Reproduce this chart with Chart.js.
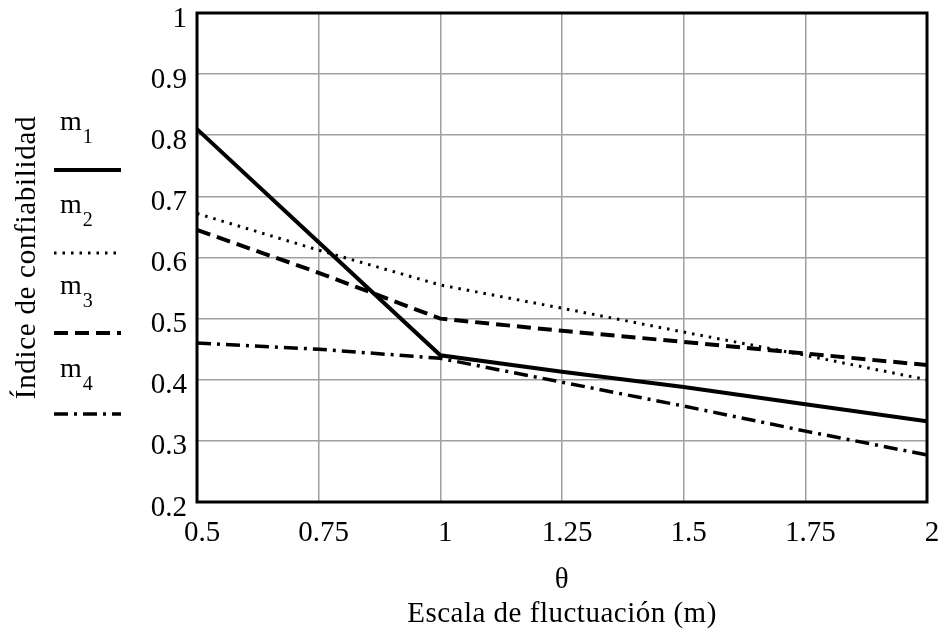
<!DOCTYPE html>
<html>
<head>
<meta charset="utf-8">
<script src="https://cdn.jsdelivr.net/npm/chart.js@4"></script>
<style>
  body { margin: 0; background: #fff; }
  #caja { width: 946px; height: 633px; position: relative; }
</style>
</head>
<body>
<div id="caja"><canvas id="grafico"></canvas></div>
<script>
const theta = [0.5, 0.75, 1, 1.25, 1.5, 1.75, 2];
const m1 = [0.81, 0.625, 0.44, 0.413, 0.388, 0.36, 0.332];
const m2 = [0.672, 0.612, 0.555, 0.517, 0.478, 0.44, 0.40];
const m3 = [0.645, 0.575, 0.50, 0.48, 0.462, 0.443, 0.424];
const m4 = [0.46, 0.45, 0.435, 0.396, 0.357, 0.316, 0.277];
const nombres = ["1", "2", "3", "4"];
const tituloY = "Índice de confiabilidad";
const tituloX = ["θ", "Escala de fluctuación (m)"];

const fuente = "'Liberation Serif', 'Times New Roman', serif";

function puntos(valores) {
  return valores.map((v, i) => ({ x: theta[i], y: v }));
}

const estilos = [
  { borderWidth: 4, borderDash: [] },
  { borderWidth: 3, borderDash: [2.5, 6] },
  { borderWidth: 4, borderDash: [14, 7] },
  { borderWidth: 3.5, borderDash: [14, 6, 3, 6] },
];

const series = [m1, m2, m3, m4];
const datasets = series.map((s, i) => ({
  label: "m" + nombres[i],
  data: puntos(s),
  borderColor: "#000",
  borderWidth: estilos[i].borderWidth,
  borderDash: estilos[i].borderDash,
  pointRadius: 0,
  tension: 0,
  fill: false,
}));

// posiciones de la leyenda (línea base del texto y de la muestra)
const leyendaTexto = [130, 213, 294, 377];
const leyendaLinea = [170, 253, 333, 414];

// marco, leyenda y títulos
const extras = {
  id: "extras",
  afterDraw(chart) {
    const ctx = chart.ctx;
    const a = chart.chartArea;
    ctx.save();
    ctx.strokeStyle = "#000";
    ctx.lineWidth = 3;
    ctx.setLineDash([]);
    ctx.strokeRect(a.left, a.top, a.right - a.left, a.bottom - a.top);

    // leyenda
    ctx.fillStyle = "#000";
    ctx.textBaseline = "alphabetic";
    ctx.textAlign = "left";
    chart.data.datasets.forEach((ds, i) => {
      const base = leyendaTexto[i];
      ctx.font = "28px " + fuente;
      ctx.fillText("m", 60, base);
      const w = ctx.measureText("m").width;
      ctx.font = "20px " + fuente;
      ctx.fillText(nombres[i], 60 + w + 1, base + 13);
      ctx.lineWidth = ds.borderWidth;
      ctx.setLineDash(ds.borderDash);
      ctx.beginPath();
      ctx.moveTo(54, leyendaLinea[i]);
      ctx.lineTo(121, leyendaLinea[i]);
      ctx.stroke();
    });
    ctx.setLineDash([]);

    // títulos
    ctx.font = "29px " + fuente;
    ctx.letterSpacing = "0.5px";
    ctx.textAlign = "center";
    const cx = (a.left + a.right) / 2;
    ctx.fillText(tituloX[0], cx, 588);
    ctx.fillText(tituloX[1], cx, 622);
    ctx.letterSpacing = "0.7px";
    ctx.translate(35, (a.top + a.bottom) / 2);
    ctx.rotate(-Math.PI / 2);
    ctx.fillText(tituloY, 0, 0);
    ctx.restore();
  },
};

new Chart(document.getElementById("grafico"), {
  type: "line",
  data: { datasets },
  options: {
    responsive: true,
    maintainAspectRatio: false,
    animation: false,
    layout: { padding: { left: 0, top: 13, right: 19, bottom: 0 } },
    plugins: { legend: { display: false }, tooltip: { enabled: false } },
    scales: {
      x: {
        type: "linear",
        min: 0.5,
        max: 2,
        afterFit(s) { s.height = 131; s.paddingLeft = 0; s.paddingRight = 0; },
        grid: { color: "#a0a0a0", lineWidth: 1.5, drawTicks: false },
        border: { display: false },
        ticks: {
          stepSize: 0.25,
          padding: 14,
          labelOffset: 5,
          color: "#000",
          font: { family: fuente, size: 29 },
          callback: (v) => String(+v.toFixed(2)),
        },
      },
      y: {
        min: 0.2,
        max: 1,
        afterFit(s) { s.width = 197; s.paddingTop = 0; s.paddingBottom = 0; },
        grid: { color: "#a0a0a0", lineWidth: 1.5, drawTicks: false },
        border: { display: false },
        ticks: {
          stepSize: 0.1,
          padding: 10,
          labelOffset: 6,
          color: "#000",
          font: { family: fuente, size: 29 },
          callback: (v) => String(+v.toFixed(1)),
        },
      },
    },
  },
  plugins: [extras],
});
</script>
</body>
</html>
